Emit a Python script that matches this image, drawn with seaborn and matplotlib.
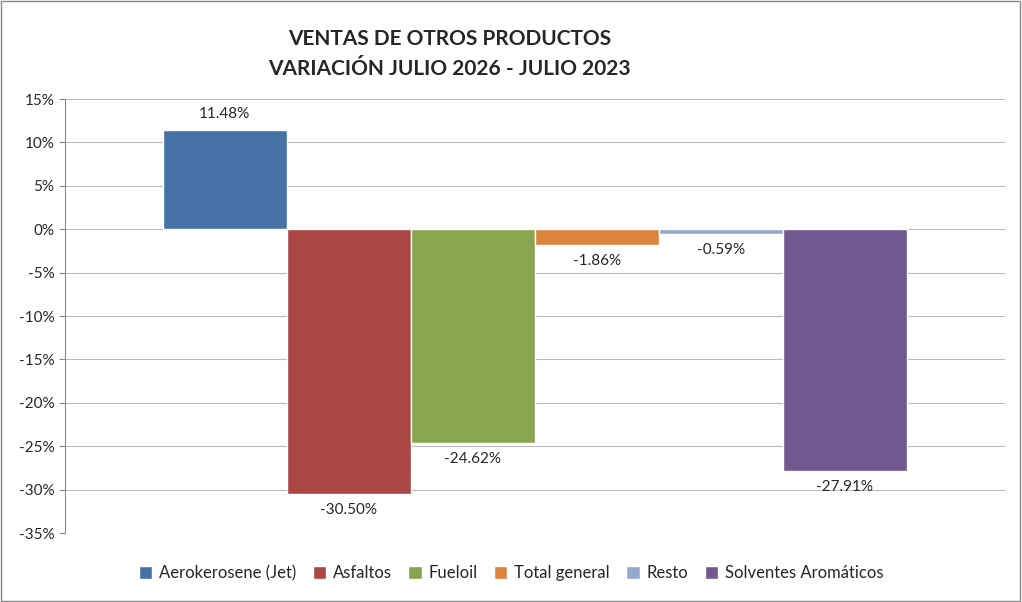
import matplotlib
matplotlib.use("Agg")
import matplotlib.pyplot as plt
import seaborn as sns
import pandas as pd
from matplotlib.patches import Patch, Rectangle

productos = ["Aerokerosene (Jet)", "Asfaltos", "Fueloil", "Total general", "Resto", "Solventes Aromáticos"]
variacion = [11.48, -30.50, -24.62, -1.86, -0.59, -27.91]
colores = ["#4572A7", "#AA4643", "#89A54E", "#DB843D", "#93A9CF", "#71588F"]

sns.set_style("white")
plt.rcParams["font.family"] = ["Lato", "DejaVu Sans"]

df = pd.DataFrame({"producto": productos, "variacion": variacion})

fig = plt.figure(figsize=(10.22, 6.02), dpi=100)
ax = fig.add_axes([0.0636, 0.1146, 0.9194, 0.7209])
sns.barplot(data=df, x="producto", y="variacion", hue="producto", palette=colores,
            width=1.0, saturation=1, legend=False, ax=ax)

ax.set_ylim(-35, 15)
ax.set_xlim(-1.287, 6.287)
ax.set_yticks(range(-35, 16, 5))
ax.set_yticklabels([f"{v}%" for v in range(-35, 16, 5)], fontsize=11)
ax.set_xticks([])
ax.set_xlabel("")
ax.set_ylabel("")
ax.yaxis.grid(True, color="#BBBBBB", linewidth=0.8)
ax.set_axisbelow(True)
for s in ["top", "right", "bottom"]:
    ax.spines[s].set_visible(False)
ax.spines["left"].set_color("#888888")
ax.tick_params(axis="y", length=4, color="#888888", left=True)

for i, v in enumerate(variacion):
    off = 1.0 if v >= 0 else -1.0
    ax.text(i, v + off, f"{v:.2f}%", ha="center", va="bottom" if v >= 0 else "top", fontsize=11)

fig.text(0.44, 0.935, "VENTAS DE OTROS PRODUCTOS", ha="center", va="center", fontsize=15, fontweight="bold")
fig.text(0.44, 0.885, "VARIACIÓN JULIO 2026 - JULIO 2023", ha="center", va="center", fontsize=15, fontweight="bold")

handles = [Patch(facecolor=c, label=p) for c, p in zip(colores, productos)]
fig.legend(handles=handles, loc="center", bbox_to_anchor=(0.5, 0.048), ncol=6, frameon=False,
           fontsize=12, handlelength=0.8, handleheight=0.8, columnspacing=1.0, handletextpad=0.4)

fig.patches.append(Rectangle((0.001, 0.001), 0.997, 0.997, transform=fig.transFigure,
                             fill=False, edgecolor="#888888", linewidth=1))
fig.savefig("out.png", dpi=100)
